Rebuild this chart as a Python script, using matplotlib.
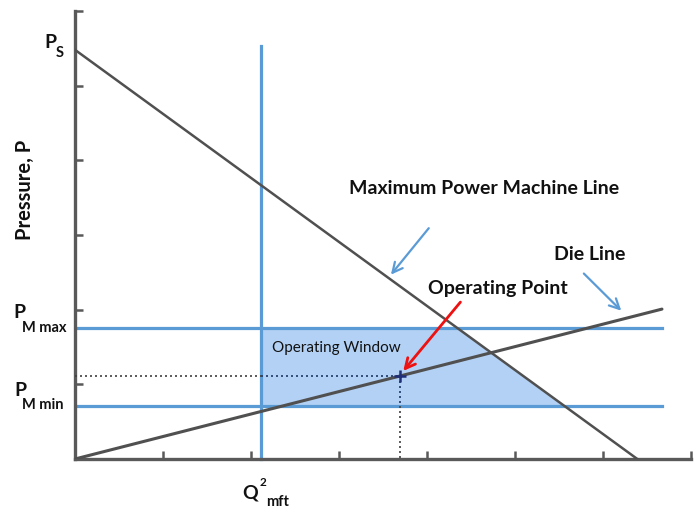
import numpy as np
import matplotlib.pyplot as plt
from matplotlib.patches import Polygon

plt.rcParams['font.family'] = ['Lato', 'DejaVu Sans']

# Data (axis units)
p_s = 5.48            # max power line intercept on pressure axis
q_zero = 6.39         # max power line hits Q axis here
die_x = [0.0, 6.67]
die_slope = 0.301
p_max = 1.76
p_min = 0.705
q_mft = 2.11
q_vline_top = 5.53
hline_end = 6.67
op_q = 3.69
op_p = die_slope * op_q

W, H = 699, 508
fig = plt.figure(figsize=(W / 100, H / 100), dpi=100)
ax = fig.add_axes([75 / W, (H - 459) / H, 616 / W, 448 / H])
ax.set_xlim(0, 7)
ax.set_ylim(0, 6)

spine_c = '#595959'
blue = '#5b9bd5'
for s in ['top', 'right']:
    ax.spines[s].set_visible(False)
for s in ['left', 'bottom']:
    ax.spines[s].set_color(spine_c)
    ax.spines[s].set_linewidth(2.4)
ax.set_xticks(np.arange(1, 8))
ax.set_yticks(np.arange(1, 7))
ax.tick_params(direction='in', length=6, width=1.8, color=spine_c,
               labelbottom=False, labelleft=False)

# operating window
def mp_line(p):
    return (p_s - p) * q_zero / p_s

window = Polygon([(q_mft, p_min), (q_mft, p_max), (mp_line(p_max), p_max),
                  (mp_line(p_min), p_min)], closed=True,
                 facecolor='#b3d1f4', edgecolor='none', zorder=1)
ax.add_patch(window)

# blue limit lines
ax.plot([0, hline_end], [p_max, p_max], color=blue, lw=2.3, zorder=2)
ax.plot([0, hline_end], [p_min, p_min], color=blue, lw=2.3, zorder=2)
ax.plot([q_mft, q_mft], [0, q_vline_top], color=blue, lw=2.3, zorder=2,
        clip_on=False)

# machine line and die line
ax.plot([0, q_zero], [p_s, 0], color='#505050', lw=1.8, zorder=3)
ax.plot(die_x, [die_slope * x for x in die_x], color='#505050', lw=2.2,
        zorder=3, solid_capstyle='round')

# dotted guides to operating point
dot = (0, (1.2, 1.8))
ax.plot([0, q_mft], [op_p, op_p], ls=dot, color='#404040', lw=1.2, zorder=3)
ax.plot([q_mft, op_q], [op_p, op_p], ls=dot, color='#203864', lw=1.2, zorder=3)
ax.plot([op_q, op_q], [op_p, p_min], ls=dot, color='#203864', lw=1.2, zorder=3)
ax.plot([op_q, op_q], [p_min, 0], ls=dot, color='#404040', lw=1.2, zorder=3)
ax.plot([op_q], [op_p], marker='+', ms=9, mew=1.8, color='#1f2f7a', zorder=5)

# annotations
bold = dict(fontsize=14, fontweight='bold', color='#111111')
ax.annotate('', xy=(3.57, 2.44), xytext=(4.04, 3.12),
            arrowprops=dict(arrowstyle='->', color=blue, lw=1.6, mutation_scale=18))
ax.text(4.65, 3.62, 'Maximum Power Machine Line', ha='center', va='center', **bold)
ax.annotate('', xy=(6.23, 1.96), xytext=(5.76, 2.51),
            arrowprops=dict(arrowstyle='->', color=blue, lw=1.6, mutation_scale=18))
ax.text(5.85, 2.74, 'Die Line', ha='center', va='center', **bold)
ax.annotate('', xy=(op_q + 0.02, op_p + 0.04), xytext=(4.4, 2.13),
            arrowprops=dict(arrowstyle='->', color='#ee1111', lw=2.0, mutation_scale=18))
ax.text(4.8, 2.29, 'Operating Point', ha='center', va='center', **bold)
ax.text(2.97, 1.48, 'Operating Window', ha='center', va='center',
        fontsize=11, color='#111111')

# axis labels placed in figure pixels
def ftext(x, y, s, **kw):
    fig.text(x / W, 1 - y / H, s, **kw)

lab = dict(fontweight='bold', color='#111111', va='center')
ftext(25, 190, 'Pressure, P', rotation=90, ha='center', fontsize=14.5, **lab)
ftext(50, 42, 'P', ha='center', fontsize=14, **lab)
ftext(60, 53, 'S', ha='center', fontsize=10.5, **lab)
ftext(19, 313, 'P', ha='center', fontsize=14, **lab)
ftext(44, 328, 'M max', ha='center', fontsize=10.5, **lab)
ftext(20, 390, 'P', ha='center', fontsize=14, **lab)
ftext(43, 405, 'M min', ha='center', fontsize=10.5, **lab)
ftext(250, 493, 'Q', ha='center', fontsize=14, **lab)
ftext(263, 482, '2', ha='center', fontsize=8.5, **lab)
ftext(278, 502, 'mft', ha='center', fontsize=10.5, **lab)

fig.savefig('out.png', dpi=100)
